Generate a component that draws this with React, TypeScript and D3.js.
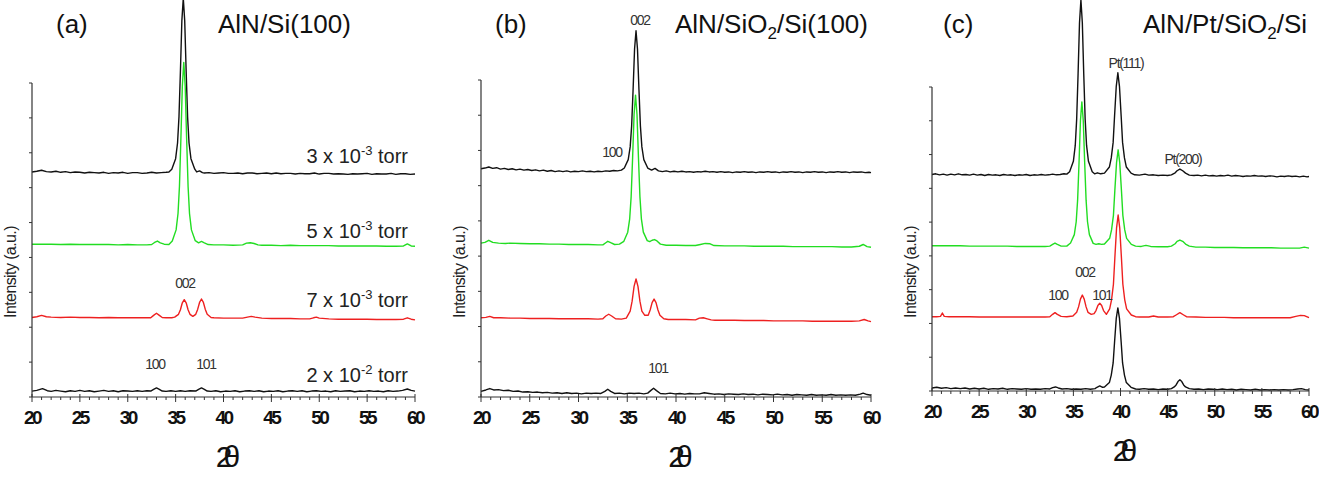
import * as d3 from 'd3';

type Pt = [number, number];

// shared axes
const thetaDomain: [number, number] = [20, 60];
const intensityMax = 900;
const tickLabels = [20, 25, 30, 35, 40, 45, 50, 55, 60];

// deposition pressure, bottom trace to top trace
const pressureMantissa = ['2', '7', '5', '3'];
const pressureExponent = ['-2', '-3', '-3', '-3'];
const pressureLabelY = [43, 258, 456, 671];

const traceColors = ['#111111', '#ee2020', '#22dd22', '#111111'];

// vertical offsets of the stacked traces (a.u.), bottom to top
const offsetsA = [17, 226, 436, 642];
const offsetsB = [11, 222, 432, 642];
const offsetsC = [6, 219, 429, 639];

// ---------- (a) AlN/Si(100) ----------
const aTrace2e2: Pt[] = [
  [20, 0], [20.5, 2], [21.1, 7], [21.6, 1], [22, -1], [22.5, 2], [23, 0], [23.5, -2], [24, 1], [24.5, -1],
  [25, 2], [25.5, -1], [26, 1], [26.5, -2], [27, 0], [27.5, 2], [28, -1], [28.5, 1], [29, -2], [29.5, 1],
  [30, 0], [30.5, -1], [31, 1], [31.5, -1], [32, 1], [32.4, 0], [32.7, 5], [33, 9], [33.3, 5], [33.6, 0],
  [34, -1], [34.5, 1], [35, -1], [35.5, 1], [36, -1], [36.5, 1], [37.1, 0], [37.4, 5], [37.7, 9], [38, 5],
  [38.3, 0], [38.7, -1], [39.2, 1], [39.7, -2], [40.2, 0], [40.7, -1], [41.2, 1], [41.7, -2], [42.2, 0],
  [42.7, 1], [43.2, -1], [43.7, 1], [44.2, -2], [44.7, 0], [45.2, -1], [45.7, 1], [46.2, -2], [46.7, 0],
  [47.2, 1], [47.7, -1], [48.2, 1], [48.7, -2], [49.2, 0], [49.7, 1], [50.2, -1], [50.7, 0], [51.2, -2],
  [51.7, 1], [52.2, -1], [52.7, 0], [53.2, 1], [53.7, -2], [54.2, 0], [54.7, -1], [55.2, 1], [55.7, -1],
  [56.2, 0], [56.7, -2], [57.2, 1], [57.7, -1], [58.2, 0], [58.7, 2], [59.2, 6], [59.6, 2], [60, 0],
];
const aTrace7e3: Pt[] = [
  [20, 2], [20.5, 4], [21, 8], [21.5, 4], [22, 3], [23, 2], [24, 3], [25, 2], [26, 2], [27, 1], [28, 2],
  [29, 1], [30, 1], [31, 1], [32, 1], [32.4, 1], [32.7, 8], [33, 14], [33.3, 8], [33.6, 2], [34, 1], [34.6, 1],
  [34.9, 3], [35.3, 11], [35.5, 24], [35.7, 44], [35.9, 53], [36.1, 44], [36.3, 24], [36.5, 11], [36.8, 5],
  [37.1, 11], [37.3, 25], [37.5, 45], [37.7, 55], [37.9, 45], [38.1, 25], [38.3, 11], [38.7, 2], [39, 1],
  [40, 0], [41, 0], [42, 0], [42.5, 3], [42.9, 5], [43.3, 3], [44, 0], [45, -1], [46, -1], [47, -1], [48, -2],
  [49, -2], [49.4, 1], [49.7, 3], [50, 0], [51, -2], [52, -3], [53, -3], [54, -3], [55, -3], [56, -4],
  [57, -4], [58, -4], [58.8, -3], [59.2, 1], [59.6, -3], [60, -5],
];
const aTrace5e3: Pt[] = [
  [20, 2], [21, 2], [22, 2], [23, 1], [24, 2], [25, 1], [26, 1], [27, 1], [28, 1], [29, 0], [30, 1], [31, 0],
  [32, 0], [32.5, 1], [32.8, 7], [33.1, 11], [33.4, 6], [33.8, 2], [34.3, 1],
  [34.65, 11], [35.05, 43], [35.25, 90], [35.4, 168], [35.55, 304], [35.7, 455], [35.85, 523], [36.0, 455],
  [36.15, 304], [36.3, 168], [36.45, 90], [36.65, 43], [37.05, 12],
  [37.4, 6], [37.7, 10], [38.0, 6], [38.4, 1], [39, 0], [40, 0], [41, -1], [42, 0], [42.4, 5], [42.8, 6],
  [43.2, 4], [43.6, 0], [44, -1], [45, -1], [46, -2], [47, -1], [48, -2], [49, -2], [50, -2], [51, -2],
  [52, -3], [53, -3], [54, -3], [55, -3], [56, -3], [57, -4], [58, -4], [58.8, -3], [59.2, 3], [59.6, -3], [60, -4],
];
const aTrace3e3: Pt[] = [
  [20, 3], [20.5, 5], [21, 8], [21.5, 4], [22, 3], [22.5, 5], [23, 2], [23.5, 4], [24, 1], [24.5, 3], [25, 2],
  [25.5, 0], [26, 2], [26.5, 1], [27, 0], [27.5, 2], [28, -1], [28.5, 1], [29, 0], [29.5, 2], [30, -1],
  [30.5, 1], [31, 1], [31.5, -1], [32, 0], [32.5, 2], [33, 0], [33.5, 1], [34, 2], [34.3, 3],
  [34.6, 11], [35.0, 41], [35.2, 86], [35.35, 161], [35.5, 291], [35.65, 436], [35.8, 501], [35.95, 436],
  [36.1, 291], [36.25, 161], [36.4, 86], [36.6, 41], [37.0, 11],
  [37.2, 3], [37.5, 6], [37.8, 1], [38, 0], [38.5, 1], [39, -1], [39.5, 0], [40, 1], [40.5, -1], [41, -1],
  [41.5, 0], [42, -2], [42.5, 0], [43, 0], [43.5, -2], [44, -1], [44.5, 0], [45, -2], [45.5, 0], [46, -2],
  [46.5, -1], [47, -1], [47.5, -3], [48, -1], [48.5, -2], [49, -2], [49.5, 0], [50, -3], [50.5, -1],
  [51, -1], [51.5, -3], [52, -2], [52.5, -3], [53, -4], [53.5, -2], [54, -3], [54.5, -2], [55, -1],
  [55.5, -4], [56, -2], [56.5, -3], [57, -3], [57.5, -1], [58, -4], [58.5, -2], [59, -2], [59.5, -4], [60, -3],
];

// ---------- (b) AlN/SiO2/Si(100) ----------
const bTrace2e2: Pt[] = [
  [20, 5], [20.5, 9], [20.9, 13], [21.3, 9], [21.8, 10], [22.3, 7], [22.8, 8], [23.3, 5], [23.8, 6], [24.3, 3],
  [24.8, 4], [25.3, 2], [25.8, 3], [26.3, 1], [26.8, 2], [27.3, 0], [27.8, 1], [28.3, -1], [28.8, 1],
  [29.3, -1], [29.8, 0], [30.3, -2], [30.8, 0], [31.3, -1], [31.8, 0], [32.3, -1], [32.7, 5], [33.0, 11],
  [33.3, 5], [33.7, -1], [34.2, 0], [34.7, -2], [35.2, 0], [35.7, -1], [36.2, 0], [36.7, -2], [37.1, 0],
  [37.4, 7], [37.7, 14], [38.0, 7], [38.4, -1], [38.9, -2], [39.4, 0], [39.9, -2], [40.4, -1], [40.9, -3],
  [41.4, -1], [41.9, -2], [42.4, -2], [42.9, 1], [43.4, -1], [43.9, -3], [44.4, -2], [44.9, -4], [45.4, -2],
  [45.9, -3], [46.4, -4], [46.9, -2], [47.4, -4], [47.9, -3], [48.4, -5], [48.9, -3], [49.4, -4], [49.9, -5],
  [50.4, -3], [50.9, -5], [51.4, -4], [51.9, -6], [52.4, -4], [52.9, -5], [53.4, -6], [53.9, -4], [54.4, -6],
  [54.9, -5], [55.4, -6], [55.9, -4], [56.4, -6], [56.9, -5], [57.4, -6], [57.9, -5], [58.4, -6], [58.9, -3],
  [59.2, 0], [59.6, -4], [60, -6],
];
const bTrace7e3: Pt[] = [
  [20, 3], [20.5, 4], [20.9, 7], [21.3, 3], [22, 3], [23, 2], [24, 2], [25, 1], [26, 1], [27, 1], [28, 0],
  [29, 0], [30, 0], [31, 0], [32, -1], [32.5, 0], [32.8, 8], [33.1, 13], [33.4, 8], [33.8, 0], [34.4, -1],
  [34.9, 2], [35.3, 22], [35.5, 50], [35.7, 92], [35.9, 113], [36.1, 92], [36.3, 50], [36.5, 22], [36.8, 10],
  [37.15, 10], [37.35, 25], [37.55, 46], [37.75, 56], [37.95, 46], [38.15, 25], [38.35, 10], [38.75, 0],
  [39.2, -2], [40, -2], [41, -2], [42, -3], [42.4, 2], [42.8, 3], [43.2, 0], [43.6, -3], [44, -4], [45, -4],
  [46, -4], [47, -5], [48, -5], [49, -5], [50, -6], [51, -6], [52, -6], [53, -6], [54, -7], [55, -7], [56, -7],
  [57, -7], [58, -7], [58.8, -6], [59.3, -2], [59.7, -6], [60, -8],
];
const bTrace5e3: Pt[] = [
  [20, 5], [20.4, 7], [20.8, 13], [21.2, 7], [21.8, 5], [22.5, 4], [23, 5], [24, 4], [25, 3], [26, 3], [27, 2],
  [28, 2], [29, 1], [30, 1], [31, 1], [32, 0], [32.5, 0], [32.8, 6], [33.0, 10], [33.3, 6], [33.7, 1], [34.2, 2],
  [34.65, 10], [35.05, 36], [35.25, 74], [35.4, 137], [35.55, 247], [35.7, 370], [35.85, 425], [36.0, 370],
  [36.15, 247], [36.3, 137], [36.45, 74], [36.65, 36], [37.05, 12], [37.3, 9], [37.55, 13], [37.8, 15],
  [38.05, 11], [38.4, 2], [39, -1], [40, -1], [41, -2], [42, -2], [42.5, 1], [43, 4], [43.5, 3], [43.9, -2],
  [45, -3], [46, -3], [47, -3], [48, -4], [49, -4], [50, -4], [51, -4], [52, -5], [53, -5], [54, -5], [55, -5],
  [56, -5], [57, -6], [58, -6], [58.8, -4], [59.2, 1], [59.6, -5], [60, -7],
];
const bTrace3e3: Pt[] = [
  [20, 6], [20.4, 8], [20.8, 11], [21.2, 7], [21.6, 9], [22, 5], [22.4, 7], [22.8, 4], [23.2, 6], [23.6, 3],
  [24, 5], [24.4, 2], [24.8, 4], [25.2, 1], [25.6, 3], [26, 0], [26.4, 2], [26.8, -1], [27.2, 1], [27.6, -2],
  [28, 0], [28.4, -2], [28.8, 0], [29.2, -3], [29.6, -1], [30, -2], [30.4, 0], [30.8, -2], [31.2, -1],
  [31.6, -3], [32, -1], [32.4, -2], [32.8, 0], [33.2, -1], [33.6, 1], [34, 0], [34.4, 2], [34.7, 8],
  [35.1, 32], [35.3, 68], [35.45, 127], [35.6, 231], [35.75, 346], [35.9, 398], [36.05, 346], [36.2, 231],
  [36.35, 127], [36.5, 68], [36.7, 32], [37.1, 8], [37.5, 2], [37.85, 7], [38.2, 0], [38.6, -2], [39, 0],
  [39.4, -3], [39.8, -1], [40.2, -3], [40.6, -1], [41, -3], [41.4, -2], [41.8, -4], [42.2, -2], [42.6, -3],
  [43, -1], [43.4, -3], [43.8, -2], [44.2, -4], [44.6, -2], [45, -4], [45.4, -3], [45.8, -5], [46.2, -3],
  [46.6, -4], [47, -2], [47.4, -4], [47.8, -3], [48.2, -5], [48.6, -3], [49, -4], [49.4, -2], [49.8, -4],
  [50.2, -3], [50.6, -5], [51, -3], [51.4, -4], [51.8, -2], [52.2, -4], [52.6, -3], [53, -5], [53.4, -3],
  [53.8, -4], [54.2, -2], [54.6, -4], [55, -3], [55.4, -5], [55.8, -3], [56.2, -4], [56.6, -2], [57, -4],
  [57.4, -3], [57.8, -5], [58.2, -3], [58.6, -4], [59, -3], [59.4, -5], [59.8, -4], [60, -5],
];

// ---------- (c) AlN/Pt/SiO2/Si ----------
const cTrace2e2: Pt[] = [
  [20, 3], [20.5, 5], [21, 2], [21.5, 4], [22, 1], [22.5, 3], [23, 1], [23.5, 3], [24, 0], [24.5, 2], [25, 0],
  [25.5, 2], [26, -1], [26.5, 1], [27, 0], [27.5, 2], [28, -1], [28.5, 1], [29, 0], [29.5, -1], [30, 1],
  [30.5, -1], [31, 0], [31.5, -1], [32, 1], [32.5, 0], [32.8, 4], [33.1, 6], [33.4, 3], [33.8, 0], [34.3, 1],
  [34.8, -1], [35.3, 0], [35.8, -1], [36.3, 1], [36.8, -1], [37.3, 1], [37.5, 5], [37.8, 9], [38.1, 5],
  [38.3, 6], [38.82, 19], [39.02, 41], [39.22, 77], [39.37, 139], [39.55, 209], [39.72, 240], [39.89, 209],
  [40.07, 139], [40.22, 77], [40.42, 41], [40.62, 19], [41.12, 5], [41.6, 0], [42, -1], [42.5, 1], [43, -1],
  [43.5, 0], [44, -2], [44.5, 0], [45, -1], [45.4, 1], [45.7, 6], [45.9, 12], [46.1, 22], [46.3, 27],
  [46.5, 22], [46.7, 12], [46.9, 6], [47.3, 1], [47.8, -1], [48.3, 0], [48.8, -2], [49.3, 0], [49.8, -1],
  [50.3, -2], [50.8, 0], [51.3, -2], [51.8, -1], [52.3, -3], [52.8, -1], [53.3, -2], [53.8, -3], [54.3, -1],
  [54.8, -3], [55.3, -2], [55.8, -3], [56.3, -2], [56.8, -3], [57.3, -2], [57.8, -3], [58.3, -2], [58.8, 0],
  [59.2, 1], [59.6, -2], [60, -3],
];
const cTrace7e3: Pt[] = [
  [20, 1], [20.5, 1], [20.9, 2], [21.1, 12], [21.3, 2], [21.8, 1], [22.5, 1], [23, 1], [24, 1], [25, 0],
  [26, 0], [27, 0], [28, 0], [29, 0], [30, 0], [31, 0], [32, 0], [32.5, 1], [32.8, 8], [33.05, 13], [33.3, 8],
  [33.7, 2], [34.3, 1], [34.95, 3], [35.35, 14], [35.55, 30], [35.75, 53], [35.95, 65], [36.15, 53],
  [36.35, 30], [36.55, 14], [36.9, 8], [37.2, 10], [37.4, 19], [37.6, 34], [37.8, 41], [38.0, 34], [38.2, 19],
  [38.5, 8], [38.85, 24], [39.05, 51], [39.25, 97], [39.4, 175], [39.58, 263], [39.75, 302], [39.92, 263],
  [40.1, 175], [40.25, 97], [40.45, 51], [40.65, 24], [41.15, 6], [41.6, 1], [42, 0], [42.5, 0], [43, 0],
  [43.5, 3], [44, 0], [45, 0], [45.6, 1], [45.9, 6], [46.3, 13], [46.7, 6], [47, 1], [48, 0], [49, -1],
  [50, -1], [51, -1], [52, -2], [53, -2], [54, -2], [55, -2], [56, -2], [57, -2], [58, -2], [58.6, 2],
  [59.1, 5], [59.5, 4], [60, -2],
];
const cTrace5e3: Pt[] = [
  [20, 1], [21, 1], [22, 1], [23, 1], [24, 0], [25, 0], [26, 0], [27, 0], [28, 0], [29, -1], [30, -1],
  [31, -1], [32, -1], [32.5, 0], [32.8, 5], [33.05, 9], [33.3, 5], [33.7, 0], [34.3, 0],
  [34.7, 9], [35.1, 34], [35.3, 72], [35.45, 136], [35.6, 247], [35.75, 371], [35.9, 427], [36.05, 371],
  [36.2, 247], [36.35, 136], [36.5, 72], [36.7, 34], [37.1, 8], [37.4, 5], [37.7, 7], [38.0, 5], [38.3, 6],
  [38.85, 23], [39.05, 48], [39.25, 91], [39.4, 165], [39.58, 247], [39.75, 285], [39.92, 247], [40.1, 165],
  [40.25, 91], [40.45, 48], [40.65, 23], [41.15, 5], [41.6, 0], [42.2, -1], [42.7, 2], [43.2, -1], [44, -2],
  [45, -2], [45.4, 0], [45.8, 7], [46.0, 14], [46.3, 18], [46.6, 14], [46.9, 6], [47.3, 0], [48, -3],
  [49, -3], [50, -4], [51, -4], [52, -4], [53, -5], [54, -5], [55, -5], [56, -5], [57, -6], [58, -6],
  [59, -6], [59.5, -3], [60, -6],
];
const cTrace3e3: Pt[] = [
  [20, 2], [20.4, 4], [20.8, 1], [21.2, 3], [21.6, 0], [22, 3], [22.4, 1], [22.8, 4], [23.2, 1], [23.6, 2],
  [24, 0], [24.4, 3], [24.8, 0], [25.2, 2], [25.6, -1], [26, 2], [26.4, 0], [26.8, 1], [27.2, -1], [27.6, 2],
  [28, 0], [28.4, 1], [28.8, -1], [29.2, 1], [29.6, 0], [30, 2], [30.4, -1], [30.8, 1], [31.2, 0], [31.6, 2],
  [32, 0], [32.4, 1], [32.8, 3], [33.2, 1], [33.6, 2], [34.0, 4], [34.3, 3],
  [34.6, 10], [35.0, 41], [35.2, 88], [35.35, 166], [35.5, 300], [35.65, 451], [35.8, 519], [35.95, 451],
  [36.1, 300], [36.25, 166], [36.4, 88], [36.6, 41], [37.0, 10], [37.25, 4], [37.55, 7], [37.9, 4], [38.3, 6],
  [38.82, 24], [39.02, 51], [39.22, 97], [39.37, 175], [39.55, 263], [39.72, 303], [39.89, 263], [40.07, 175],
  [40.22, 97], [40.42, 51], [40.62, 24], [41.12, 6], [41.5, 1], [42, 0], [42.6, 3], [43, 0], [43.5, 1],
  [44, -1], [44.5, 0], [45, -1], [45.4, 1], [45.8, 7], [46.0, 13], [46.3, 18], [46.6, 13], [46.9, 6],
  [47.3, 0], [47.8, -1], [48.2, 0], [48.6, -2], [49, 0], [49.4, -2], [49.8, -1], [50.2, -3], [50.6, -1],
  [51, -2], [51.4, 0], [51.8, -3], [52.2, -1], [52.6, -2], [53, -4], [53.4, -2], [53.8, -3], [54.2, -1],
  [54.6, -3], [55, -2], [55.4, -4], [55.8, -2], [56.2, -3], [56.6, -5], [57, -3], [57.4, -4], [57.8, -2],
  [58.2, -4], [58.6, -3], [59, -5], [59.4, -3], [59.8, -5], [60, -4],
];

// reflection labels: [text, 2θ, intensity]
type PeakLabel = [string, number, number];
const peakLabelsA: PeakLabel[] = [['002', 35.98, 312], ['100', 32.85, 80], ['101', 38.17, 80]];
const peakLabelsB: PeakLabel[] = [['002', 36.31, 1056], ['100', 33.44, 681], ['101', 38.15, 68]];
const peakLabelsC: PeakLabel[] = [
  ['Pt(111)', 40.58, 956], ['Pt(200)', 46.63, 672], ['002', 36.23, 337], ['100', 33.37, 269], ['101', 38.04, 269],
];

// sample stacks: [text, subscript?]
const titles: [string, boolean][][] = [
  [['AlN/Si(100)', false]],
  [['AlN/SiO', false], ['2', true], ['/Si(100)', false]],
  [['AlN/Pt/SiO', false], ['2', true], ['/Si', false]],
];
const panelTags = ['(a)', '(b)', '(c)'];

const FONT = "'Liberation Sans', Arial, Helvetica, sans-serif";

interface PanelSpec {
  left: number; right: number; bottom: number; top: number;
  tagX: number; titleX: number;
  traces: Pt[][]; offsets: number[]; labels: PeakLabel[];
  showPressure: boolean;
}

const layout: PanelSpec[] = [
  { left: 32, right: 415, bottom: 397, top: 83, tagX: 56, titleX: 218,
    traces: [aTrace2e2, aTrace7e3, aTrace5e3, aTrace3e3], offsets: offsetsA, labels: peakLabelsA, showPressure: true },
  { left: 481, right: 871, bottom: 397, top: 80, tagX: 495, titleX: 675,
    traces: [bTrace2e2, bTrace7e3, bTrace5e3, bTrace3e3], offsets: offsetsB, labels: peakLabelsB, showPressure: false },
  { left: 932, right: 1309, bottom: 391, top: 87, tagX: 943, titleX: 1143,
    traces: [cTrace2e2, cTrace7e3, cTrace5e3, cTrace3e3], offsets: offsetsC, labels: peakLabelsC, showPressure: false },
];

const Panel = ({ spec, index }: { spec: PanelSpec; index: number }) => {
  const x = d3.scaleLinear().domain(thetaDomain).range([spec.left, spec.right]);
  const y = d3.scaleLinear().domain([0, intensityMax]).range([spec.bottom, spec.top]);
  const line = d3.line<Pt>().x(d => x(d[0])).y(d => y(d[1]));

  // draw top trace first so the lower ones sit above it
  const order = [3, 2, 1, 0];

  return (
    <g>
      {order.map(i => (
        <path
          key={i}
          d={line(spec.traces[i].map(([t, v]) => [t, v + spec.offsets[i]] as Pt)) ?? ''}
          fill="none"
          stroke={traceColors[i]}
          strokeWidth={1.4}
          strokeLinejoin="round"
        />
      ))}

      {/* axes */}
      <line x1={spec.left} x2={spec.left} y1={spec.top} y2={spec.bottom} stroke="#333" strokeWidth={1.2} />
      <line x1={spec.left} x2={spec.right} y1={spec.bottom} y2={spec.bottom} stroke="#333" strokeWidth={1.2} />
      {y.ticks(9).map(t => (
        <line key={`y${t}`} x1={spec.left - 3} x2={spec.left} y1={y(t)} y2={y(t)} stroke="#333" strokeWidth={1} />
      ))}
      {x.ticks(40).map(t => {
        const major = tickLabels.includes(t);
        return (
          <line key={`x${t}`} x1={x(t)} x2={x(t)} y1={spec.bottom - (major ? 3 : 0)} y2={spec.bottom + (major ? 5 : 3)}
            stroke="#333" strokeWidth={1} />
        );
      })}
      {tickLabels.map(t => (
        <text key={`l${t}`} x={x(t)} y={spec.bottom + 27} textAnchor="middle" fontFamily={FONT}
          fontSize={19} fontWeight="bold" letterSpacing={-2.5} fill="#111">{t}</text>
      ))}

      {/* axis titles */}
      <text x={(spec.left + spec.right) / 2} y={spec.bottom + 70} textAnchor="middle" fontFamily={FONT}
        fontSize={30} letterSpacing={-9} fill="#111">2θ</text>
      <text transform={`translate(${spec.left - 16},272) rotate(-90)`} textAnchor="middle" fontFamily={FONT}
        fontSize={16} letterSpacing={-0.6} fill="#222">Intensity (a.u.)</text>

      {/* panel tag and sample stack */}
      <text x={spec.tagX} y={33} fontFamily={FONT} fontSize={26} fill="#111">{panelTags[index]}</text>
      <text x={spec.titleX} y={33} fontFamily={FONT} fontSize={26} fill="#111">
        {titles[index].map(([s, sub], k) => (
          <tspan key={k} fontSize={sub ? 17 : 26} dy={sub ? 6 : (k > 0 ? -6 : 0)}>{s}</tspan>
        ))}
      </text>

      {/* reflection labels */}
      {spec.labels.map(([s, t, v], k) => (
        <text key={`p${k}`} x={x(t)} y={y(v)} textAnchor="middle" fontFamily={FONT} fontSize={14}
          letterSpacing={-1.3} fill="#333">{s}</text>
      ))}

      {spec.showPressure && pressureMantissa.map((m, i) => (
        <text key={`pr${i}`} x={x(59.27)} y={y(pressureLabelY[i])} textAnchor="end" fontFamily={FONT}
          fontSize={20} fill="#222">
          {`${m} x 10`}
          <tspan fontSize={13} dy={-8}>{pressureExponent[i]}</tspan>
          <tspan dy={8}>{' torr'}</tspan>
        </text>
      ))}
    </g>
  );
};

export default function App() {
  return (
    <svg width={1319} height={485} style={{ position: 'absolute', left: 0, top: 0, background: '#fff' }}>
      {layout.map((spec, i) => <Panel key={i} spec={spec} index={i} />)}
    </svg>
  );
}
